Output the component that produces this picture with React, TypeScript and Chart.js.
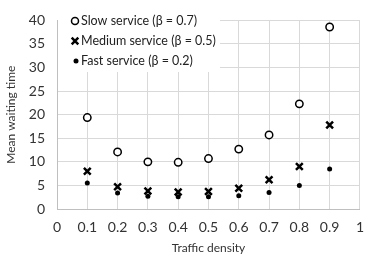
import { useEffect, useRef } from 'react';
import { Chart, registerables } from 'chart.js';

Chart.register(...registerables);

const densities = [0.1, 0.2, 0.3, 0.4, 0.5, 0.6, 0.7, 0.8, 0.9];
const slowWait = [19.4, 12.1, 10.0, 9.9, 10.7, 12.7, 15.7, 22.3, 38.6];
const mediumWait = [8.0, 4.7, 3.8, 3.6, 3.7, 4.4, 6.2, 9.0, 17.8];
const fastWait = [5.5, 3.4, 2.7, 2.6, 2.6, 2.8, 3.5, 5.0, 8.5];
const seriesLabels = ['Slow service (β = 0.7)', 'Medium service (β = 0.5)', 'Fast service (β = 0.2)'];
const xTickValues = [0, 0.1, 0.2, 0.3, 0.4, 0.5, 0.6, 0.7, 0.8, 0.9, 1];
const yTickValues = [0, 5, 10, 15, 20, 25, 30, 35, 40];

const FONT = 'Lato, "Open Sans", sans-serif';

const legendPlugin = {
  id: 'insideLegend',
  afterDatasetsDraw(chart: any) {
    const { ctx, chartArea } = chart;
    ctx.save();
    ctx.fillStyle = '#ffffff';
    ctx.fillRect(chartArea.left + 1, chartArea.top - 2, 220 - chartArea.left - 1, 72 - chartArea.top + 2);
    const rows = [21, 41, 61];
    const mx = 75;
    ctx.strokeStyle = '#000';
    // slow: open circle
    ctx.lineWidth = 1.5;
    ctx.beginPath();
    ctx.arc(mx, rows[0], 3.5, 0, Math.PI * 2);
    ctx.fillStyle = '#fff';
    ctx.fill();
    ctx.stroke();
    // medium: cross
    ctx.lineWidth = 2.5;
    const r = 3.3;
    ctx.beginPath();
    ctx.moveTo(mx - r, rows[1] - r);
    ctx.lineTo(mx + r, rows[1] + r);
    ctx.moveTo(mx + r, rows[1] - r);
    ctx.lineTo(mx - r, rows[1] + r);
    ctx.stroke();
    // fast: dot
    ctx.fillStyle = '#000';
    ctx.beginPath();
    ctx.arc(mx + 1, rows[2], 2.5, 0, Math.PI * 2);
    ctx.fill();
    ctx.font = '12.5px ' + FONT;
    ctx.fillStyle = '#222';
    ctx.textBaseline = 'middle';
    ctx.textAlign = 'left';
    seriesLabels.forEach((t, i) => ctx.fillText(t, 81, rows[i]));
    ctx.restore();
  },
};

export default function App() {
  const ref = useRef<HTMLCanvasElement>(null);
  useEffect(() => {
    if (!ref.current) return;
    const toPts = (ys: number[]) => densities.map((x, i) => ({ x, y: ys[i] }));
    const chart = new Chart(ref.current, {
      type: 'scatter',
      data: {
        datasets: [
          {
            label: seriesLabels[0],
            data: toPts(slowWait),
            pointStyle: 'circle',
            pointRadius: 3.7,
            backgroundColor: '#ffffff',
            borderColor: '#000000',
            borderWidth: 1.5,
          },
          {
            label: seriesLabels[1],
            data: toPts(mediumWait),
            pointStyle: 'crossRot',
            pointRadius: 4.8,
            borderColor: '#000000',
            borderWidth: 2.5,
          },
          {
            label: seriesLabels[2],
            data: toPts(fastWait),
            pointStyle: 'circle',
            pointRadius: 2.5,
            backgroundColor: '#000000',
            borderColor: '#000000',
            borderWidth: 0,
          },
        ],
      },
      options: {
        animation: false,
        responsive: true,
        maintainAspectRatio: false,
        layout: { padding: { top: 7, right: 7, left: 0, bottom: 0 } },
        plugins: { legend: { display: false }, tooltip: { enabled: false } },
        scales: {
          x: {
            type: 'linear',
            min: 0,
            max: 1,
            afterBuildTicks: (s: any) => {
              s.ticks = xTickValues.map((v) => ({ value: v }));
            },
            afterFit: (s: any) => {
              s.height = 50;
            },
            ticks: {
              callback: (v: any) => String(Math.round(Number(v) * 10) / 10),
              font: { family: FONT, size: 14 },
              color: '#333',
              padding: 10,
              maxRotation: 0,
            },
            grid: { color: '#d9d9d9', drawTicks: false, lineWidth: 1 },
            border: { color: '#bfbfbf' },
            title: {
              display: true,
              text: 'Traffic density',
              font: { family: FONT, size: 12 },
              color: '#333',
              padding: { top: 4, bottom: 4 },
            },
          },
          y: {
            type: 'linear',
            min: 0,
            max: 40,
            afterBuildTicks: (s: any) => {
              s.ticks = yTickValues.map((v) => ({ value: v }));
            },
            afterFit: (s: any) => {
              s.width = 57;
            },
            ticks: {
              font: { family: FONT, size: 14 },
              color: '#333',
              padding: 12,
            },
            grid: { color: '#d9d9d9', drawTicks: false, lineWidth: 1 },
            border: { color: '#bfbfbf' },
            title: {
              display: true,
              text: 'Mean waiting time',
              font: { family: FONT, size: 12 },
              color: '#333',
              padding: { top: 4, bottom: 4 },
            },
          },
        },
      },
      plugins: [legendPlugin],
    });
    return () => chart.destroy();
  }, []);
  return (
    <div style={{ position: 'absolute', left: 0, top: 0, width: 374, height: 259, background: '#fff' }}>
      <canvas ref={ref} />
    </div>
  );
}
